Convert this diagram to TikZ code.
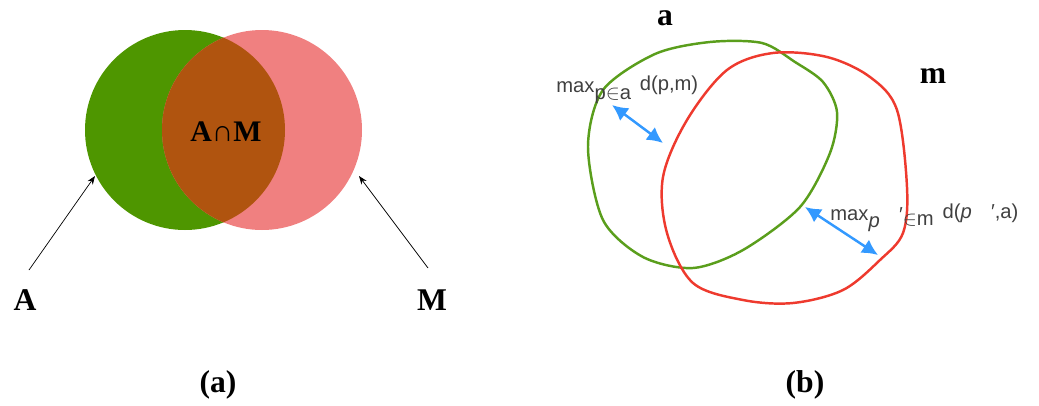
\documentclass[tikz,border=0pt]{standalone}
\usepackage{fontspec}
\setmainfont{Liberation Serif}
\newfontfamily\labelfont{Liberation Sans}
\usetikzlibrary{arrows.meta, positioning}
\definecolor{setgreen}{HTML}{4E9600}
\definecolor{setred}{HTML}{F08080}
\definecolor{setboth}{HTML}{B0540F}
\definecolor{curvegreen}{HTML}{5A9E1C}
\definecolor{curvered}{HTML}{EE3A2E}
\definecolor{distblue}{HTML}{3399FF}
\definecolor{labelgray}{HTML}{404040}
\tikzset{
  bigletter/.style={font=\fontsize{18}{21}\selectfont\bfseries},
  maxlabel/.style={font=\labelfont\fontsize{11.5}{13}\selectfont, text=labelgray, inner sep=0pt, anchor=base west},
  distarrow/.style={{Latex[length=9pt,width=9pt]}-{Latex[length=9pt,width=9pt]}, distblue, line width=1.4pt}
}
\begin{document}
\begin{tikzpicture}[x=0.02cm, y=-0.02cm, >=Stealth]
  \useasboundingbox (0,0) rectangle (1039,406);
  % (a) Venn diagram
  \fill[setgreen] (185,130) circle (100);
  \fill[setred] (262,130) circle (100);
  \begin{scope}
    \clip (185,130) circle (100);
    \fill[setboth] (262,130) circle (100);
  \end{scope}
  \node[font=\fontsize{17}{20}\selectfont\bfseries] (AM) at (226,132) {A∩M};
  % labels with arrows
  \node[bigletter] (A) at (25,300) {A};
  \node[bigletter] (M) at (432,300) {M};
  \coordinate (Atip) at (95,176);
  \coordinate (Mtip) at (359,176);
  \coordinate (Afoot) at (29,270);
  \coordinate (Mfoot) at (428,268);
  \draw[->, thin] (Afoot) -- (Atip);
  \draw[->, thin] (Mfoot) -- (Mtip);
  \node[bigletter] (capa) at (218,385) {(a)};
  % (b) two closed curves
  \draw[curvegreen, line width=1.4pt] plot[smooth cycle, tension=0.5] coordinates {
    (710,42) (762,43) (795,62) (823,82) (837,112) (830,153) (800,207)
    (743,250) (693,268) (643,257) (603,220) (588,147) (603,90) (655,54)};
  \draw[curvered, line width=1.4pt] plot[smooth cycle, tension=0.55] coordinates {
    (773,53) (827,57) (870,77) (897,110) (907,187) (903,233) (880,260)
    (843,290) (793,303) (743,300) (693,283) (667,233) (663,177) (687,120) (727,70)};
  \node[bigletter] (seta) at (665,18) {a};
  \node[bigletter] (setm) at (933,76) {m};
  % distances
  \coordinate (d1a) at (612,105);
  \coordinate (d1b) at (663,143);
  \coordinate (d2a) at (805,207);
  \coordinate (d2b) at (878,255);
  \draw[distarrow] (d1a) -- (d1b);
  \draw[distarrow] (d2a) -- (d2b);
  \node[maxlabel] (maxa) at (556,92)
    {max\raisebox{-4pt}{p$\in$a}\hspace{5pt}\raisebox{1pt}{d(p,m)}};
  \node[maxlabel] (maxm) at (830,220)
    {max\raisebox{-4pt}{\textit{p}}\hspace{11pt}\raisebox{-1pt}{′}\raisebox{-3pt}{$\in$m}\hspace{5pt}\raisebox{1pt}{d(\textit{p}\hspace{11pt}′,a)}};
  \node[bigletter] (capb) at (805,385) {(b)};
\end{tikzpicture}
\end{document}
